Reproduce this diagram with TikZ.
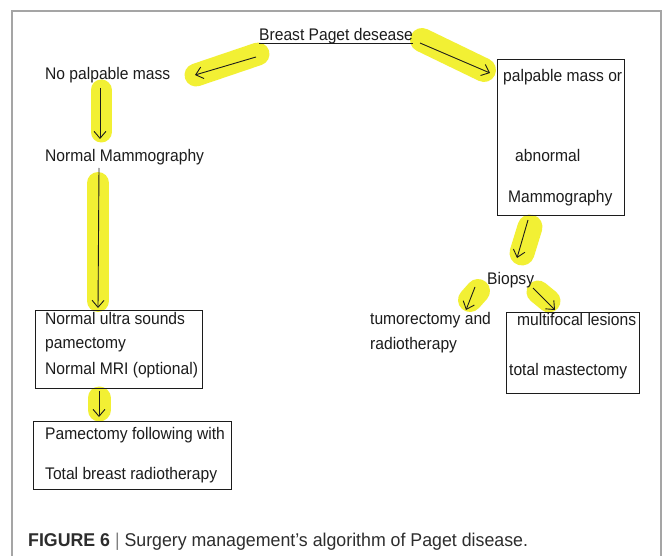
\documentclass[tikz,border=0pt]{standalone}
\usepackage{fontspec}
\setmainfont{Liberation Sans}
\newfontfamily\diafont[FakeStretch=0.93]{Liberation Sans}
\newfontfamily\capfont[FakeStretch=0.96]{Liberation Sans}
\usetikzlibrary{arrows.meta}
\definecolor{hly}{RGB}{242,240,52}
\definecolor{ink}{RGB}{28,28,28}
\definecolor{framec}{RGB}{165,165,165}
\definecolor{capc}{RGB}{45,45,45}
\begin{document}
\begin{tikzpicture}[x=1pt,y=-1pt,
  txt/.style={anchor=base west, inner sep=0pt, text=ink, font=\diafont\fontsize{16.8}{19}\selectfont},
  box/.style={draw=ink, line width=1pt, inner sep=0pt},
  arr/.style={draw=ink, line width=0.9pt, -{Straight Barb[length=7pt,width=12pt]}},
  hl/.style={draw=hly, line width=23pt, line cap=round}]
\useasboundingbox (0,0) rectangle (664,556);
\fill[white] (0,0) rectangle (664,556);
\draw[framec, line width=1.6pt] (12,556) -- (12,11) -- (661,11) -- (661,556);

% highlights
\draw[hl] (258,54) -- (196,75);
\draw[hl, line width=24pt] (422,40) -- (484,70);
\draw[hl, line width=21pt] (101,90) -- (101,132);
\draw[hl, line width=22pt] (98,183) -- (98,301);
\draw[hl, line width=23pt] (99,398) -- (99,410);
\draw[hl, line width=25pt] (530,227) -- (522,253);
\draw[hl, line width=24pt] (478,291) -- (470,300);
\draw[hl, line width=23pt] (538,292) -- (549,301);

% boxes
\node[box, minimum width=127pt, minimum height=156pt] (pmbox) at (560.5,138) {};
\node[box, minimum width=167pt, minimum height=78pt] (box1) at (118.5,349) {};
\node[box, minimum width=198pt, minimum height=68pt] (box2) at (132,455) {};
\node[box, minimum width=133pt, minimum height=81pt] (box3) at (572.5,352.5) {};

% texts
\node[txt] (title) at (259,41) {Breast Paget desease};
\draw[ink, line width=0.9pt] ([yshift=-2pt]title.base west) -- ([yshift=-2pt]title.base east);
\node[txt] (npm) at (45,79.5) {No palpable mass};
\node[txt] (nmm) at (45,161.5) {Normal Mammography};
\node[txt] (pm1) at (503,81.5) {palpable mass or};
\node[txt] (pm2) at (515,161.5) {abnormal};
\node[txt] (pm3) at (508,202.5) {Mammography};
\node[txt] (bio) at (487,284) {Biopsy};
\node[txt] (tum1) at (370,324.3) {tumorectomy and};
\node[txt] (tum2) at (370,349.3) {radiotherapy};
\node[txt] (mf1) at (517,325) {multifocal lesions};
\node[txt] (mf2) at (509,375) {total mastectomy};
\node[txt] (b1a) at (45,324.3) {Normal ultra sounds};
\node[txt] (b1b) at (45,348.3) {pamectomy};
\node[txt] (b1c) at (45,374) {Normal MRI (optional)};
\node[txt] (b2a) at (45,439.3) {Pamectomy following with};
\node[txt] (b2b) at (45,479.3) {Total breast radiotherapy};

% arrow end points
\coordinate (a1s) at (256,57);  \coordinate (a1e) at (195,75);
\coordinate (a2s) at (420,43);  \coordinate (a2e) at (490,73);
\coordinate (a3s) at (100,88);  \coordinate (a3e) at (100,139);
\coordinate (a4s) at (99,168);  \coordinate (a4e) at (98,308);
\coordinate (a5s) at (99,391);  \coordinate (a5e) at (99,417);
\coordinate (a6s) at (528,220); \coordinate (a6e) at (517,258);
\coordinate (a7s) at (475,287); \coordinate (a7e) at (466,310);
\coordinate (a8s) at (533,288); \coordinate (a8e) at (555,310);
\draw[arr] (a1s) -- (a1e);
\draw[arr] (a2s) -- (a2e);
\draw[arr] (a3s) -- (a3e);
\draw[arr] (a4s) -- (a4e);
\draw[arr] (a5s) -- (a5e);
\draw[arr] (a6s) -- (a6e);
\draw[arr] (a7s) -- (a7e);
\draw[arr] (a8s) -- (a8e);

% caption
\node[anchor=base west, inner sep=0pt, text=capc] (cap) at (28,546)
  {\capfont\fontsize{18.5}{20}\selectfont\textbf{FIGURE 6} {\color{gray}|} Surgery management’s algorithm of Paget disease.};
\end{tikzpicture}
\end{document}
